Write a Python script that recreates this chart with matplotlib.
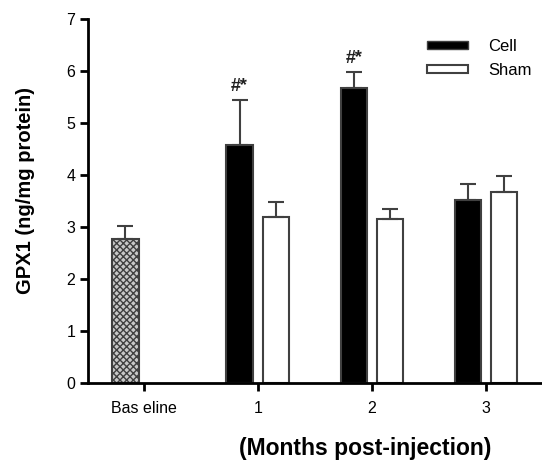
import matplotlib
matplotlib.use('Agg')
import matplotlib.pyplot as plt
from matplotlib.patches import Patch

plt.rcParams['font.family'] = ['Liberation Sans', 'DejaVu Sans']
plt.rcParams['hatch.linewidth'] = 1.0

groups = ['Bas eline', '1', '2', '3']
baseline_val = 2.77
baseline_err = 0.25
cell_vals = [4.58, 5.67, 3.52]
cell_errs = [0.86, 0.31, 0.31]
sham_vals = [3.19, 3.15, 3.67]
sham_errs = [0.29, 0.20, 0.31]
marks = ['#*', '#*', '']

pos = [0, 1, 2, 3]
w = 0.23
off = 0.16
edge = '#404040'

fig = plt.figure(figsize=(5.42, 4.63), dpi=100)
ax = fig.add_axes([0.162, 0.173, 0.838, 0.786])

ax.bar(pos[0] - off, baseline_val, w, color='#c8c8c8', edgecolor=edge,
       hatch='xxxxx', linewidth=1.5, yerr=[[0], [baseline_err]],
       error_kw=dict(ecolor=edge, elinewidth=1.5, capsize=6, capthick=1.5))

cx = [p - off for p in pos[1:]]
sx = [p + off for p in pos[1:]]
ax.bar(cx, cell_vals, w, color='black', edgecolor=edge, linewidth=1.5,
       yerr=[[0] * 3, cell_errs],
       error_kw=dict(ecolor=edge, elinewidth=1.5, capsize=6, capthick=1.5))
ax.bar(sx, sham_vals, w, color='white', edgecolor=edge, linewidth=1.5,
       yerr=[[0] * 3, sham_errs],
       error_kw=dict(ecolor=edge, elinewidth=1.5, capsize=6, capthick=1.5))

for x, v, e, m in zip(cx, cell_vals, cell_errs, marks):
    if m:
        ax.text(x, v + e + 0.1, m, ha='center', va='bottom',
                fontsize=13, fontweight='bold', color='#202020')

ax.set_xlim(-0.49, 3.49)
ax.set_ylim(0, 7)
ax.set_yticks(range(8))
ax.set_xticks(pos)
ax.set_xticklabels(groups)
ax.spines['top'].set_visible(False)
ax.spines['right'].set_visible(False)
ax.spines['left'].set_linewidth(2)
ax.spines['bottom'].set_linewidth(2)
ax.tick_params(axis='both', width=2, length=6, labelsize=11.5, colors='black')
ax.tick_params(axis='y', pad=3)
ax.tick_params(axis='x', pad=7)

ax.set_ylabel('GPX1 (ng/mg protein)', fontsize=14.5, fontweight='bold')
ax.yaxis.set_label_coords(-0.117, 0.53)
ax.set_xlabel('(Months post-injection)', fontsize=16.5, fontweight='bold')
ax.xaxis.set_label_coords(0.61, -0.15)

handles = [Patch(facecolor='black', edgecolor=edge, label='Cell'),
           Patch(facecolor='white', edgecolor=edge, linewidth=1.5, label='Sham')]
fig.legend(handles=handles, loc='upper left',
           bbox_to_anchor=(427 / 542, 1 - 39 / 463), borderpad=0,
           borderaxespad=0, frameon=False, fontsize=12, handlelength=2.45,
           handleheight=0.4, handletextpad=1.2, labelspacing=0.55)

fig.savefig('out.png', dpi=100)
